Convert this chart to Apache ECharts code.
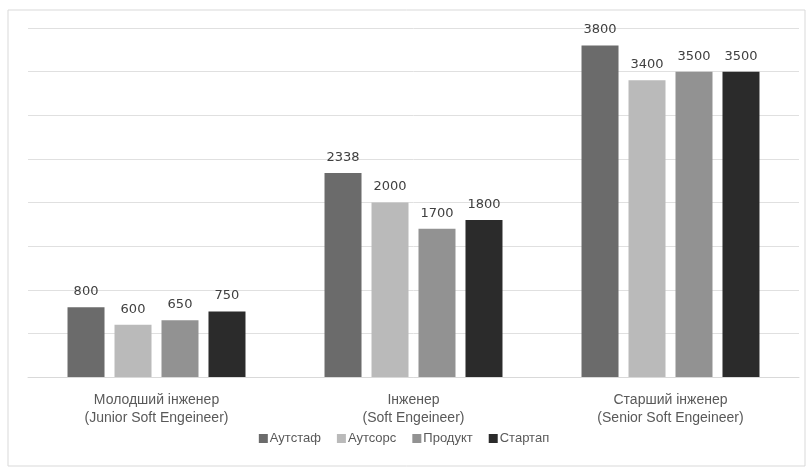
<!DOCTYPE html>
<html>
<head>
    <meta charset="utf-8">
    <title>Зарплати</title>
    <script src="https://cdn.jsdelivr.net/npm/echarts@6/dist/echarts.min.js"></script>
    <style>
        html, body { margin: 0; padding: 0; background: #fff; }
        #charts { width: 808px; height: 468px; }
    </style>
</head>
<body>
<div id="charts"></div>
<script>
    // категорії та значення
    var categories = ['Молодший інженер\n(Junior Soft Engeineer)', 'Інженер\n(Soft Engeineer)', 'Старший інженер\n(Senior Soft Engeineer)'];
    var seriesNames = ['Аутстаф', 'Аутсорс', 'Продукт', 'Стартап'];
    var outstaff = [800, 2338, 3800];
    var outsource = [600, 2000, 3400];
    var product = [650, 1700, 3500];
    var startup = [750, 1800, 3500];
    var colors = ['#6b6b6b', '#bababa', '#929292', '#2b2b2b'];

    var font = "'Liberation Sans', sans-serif";
    var myChart = echarts.init(document.getElementById('charts'));

    var values = [outstaff, outsource, product, startup];
    var series = [];
    for (var i = 0; i < seriesNames.length; i++) {
        series.push({
            name: seriesNames[i],
            type: 'bar',
            barWidth: 37,
            barGap: '27%',
            itemStyle: { color: colors[i] },
            label: {
                show: true,
                position: 'top',
                distance: 9,
                color: '#404040',
                fontSize: 13,
                fontFamily: "'DejaVu Sans', sans-serif"
            },
            data: values[i]
        });
    }

    var option = {
        backgroundColor: '#fff',
        animation: false,
        color: colors,
        graphic: [{
            type: 'rect',
            shape: { x: 8, y: 10, width: 797, height: 456 },
            style: { fill: 'none', stroke: '#d9d9d9', lineWidth: 1 }
        }],
        legend: {
            top: 427,
            left: 'center',
            itemWidth: 9,
            itemHeight: 9,
            itemGap: 16,
            icon: 'rect',
            textStyle: { color: '#595959', fontSize: 13, fontFamily: font, padding: [0, 0, 0, -3] },
            data: seriesNames
        },
        grid: { left: 28, right: 9, top: 28, bottom: 91 },
        xAxis: {
            type: 'category',
            data: categories,
            axisLine: { lineStyle: { color: '#d9d9d9' } },
            axisTick: { show: false },
            axisLabel: { color: '#595959', fontSize: 14, fontFamily: font, lineHeight: 18, margin: 14 }
        },
        yAxis: {
            type: 'value',
            min: 0,
            max: 4000,
            interval: 500,
            axisLabel: { show: false },
            axisLine: { show: false },
            axisTick: { show: false },
            splitLine: { lineStyle: { color: '#e0e0e0' } }
        },
        series: series
    };
    myChart.setOption(option);
</script>
</body>
</html>
